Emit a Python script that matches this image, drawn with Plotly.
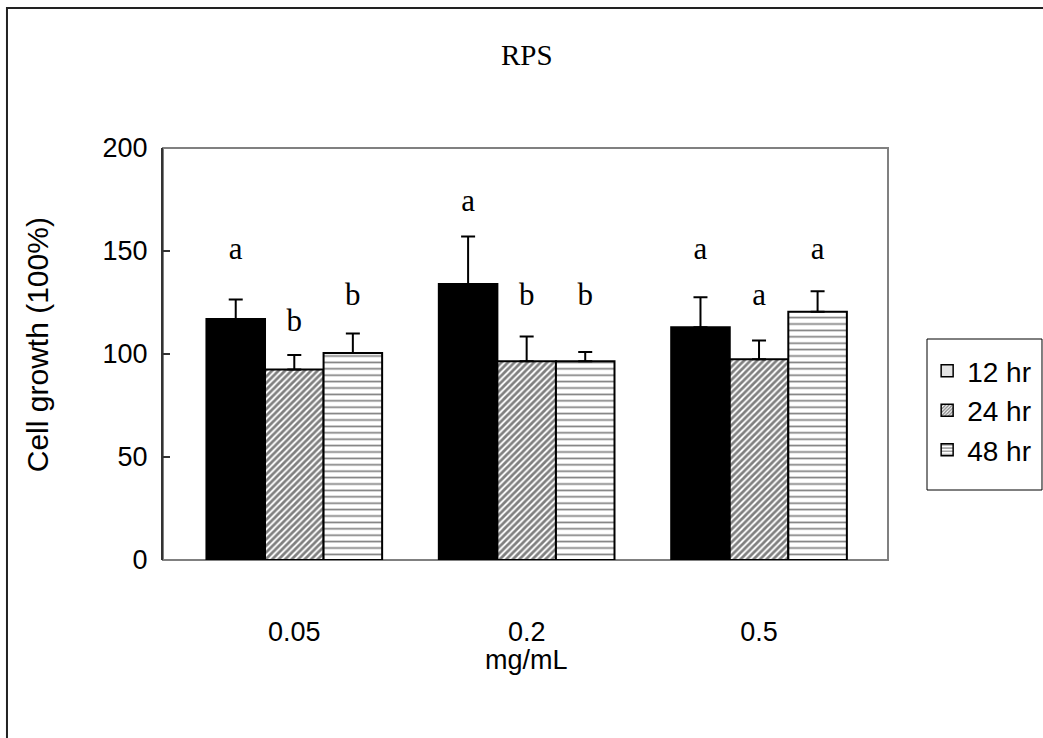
import plotly.graph_objects as go

categories = ["0.05", "0.2", "0.5"]
series_names = ["12 hr", "24 hr", "48 hr"]

growth_12 = [117, 134, 113]
err_12 = [9.5, 23, 14.5]
growth_24 = [92.5, 96.5, 97.5]
err_24 = [7, 12, 9]
growth_48 = [100.5, 96.5, 120.5]
err_48 = [9.5, 4.5, 10]

letters_12 = ["a", "a", "a"]
letters_24 = ["b", "b", "a"]
letters_48 = ["b", "b", "a"]
letter_y_12 = [150, 173, 150]
letter_y_24 = [115, 127.5, 127.5]
letter_y_48 = [127.5, 127.5, 150]

SANS = "Liberation Sans, Arial, sans-serif"
SERIF = "Liberation Serif, Times New Roman, serif"

fig = go.Figure()

styles = [
    dict(marker=dict(color="black", line=dict(color="black", width=2))),
    dict(marker=dict(color="white", line=dict(color="black", width=2),
                     pattern=dict(shape="/", fgcolor="black", bgcolor="white", size=4.6, solidity=0.6))),
    dict(marker=dict(color="white", line=dict(color="black", width=2),
                     pattern=dict(shape="-", fgcolor="black", bgcolor="white", size=6.4, solidity=0.26))),
]
legend_styles = [
    dict(marker=dict(color="#e4e4e4", line=dict(color="black", width=1.5))),
    dict(marker=dict(color="white", line=dict(color="black", width=1.5),
                     pattern=dict(shape="/", fgcolor="black", bgcolor="white", size=3, solidity=0.55))),
    dict(marker=dict(color="white", line=dict(color="black", width=1.5),
                     pattern=dict(shape="-", fgcolor="black", bgcolor="white", size=4, solidity=0.35))),
]

vals = [growth_12, growth_24, growth_48]
errs = [err_12, err_24, err_48]
letters = [letters_12, letters_24, letters_48]
letter_ys = [letter_y_12, letter_y_24, letter_y_48]

for i, name in enumerate(series_names):
    fig.add_trace(go.Bar(
        x=categories, y=vals[i], name=name, offsetgroup=name, showlegend=False,
        error_y=dict(type="data", symmetric=False, array=errs[i], arrayminus=[0] * 3,
                     color="black", thickness=2, width=7),
        **styles[i]))

for i, name in enumerate(series_names):
    fig.add_trace(go.Bar(
        x=[None], y=[None], name=name, offsetgroup=name, showlegend=True,
        legendgroup=name, **legend_styles[i]))

for i, name in enumerate(series_names):
    fig.add_trace(go.Scatter(
        x=categories, y=letter_ys[i], mode="text", text=letters[i], offsetgroup=name,
        showlegend=False, textposition="middle center",
        textfont=dict(family=SERIF, size=31, color="black"), hoverinfo="skip"))

fig.update_layout(
    width=1043, height=738,
    margin=dict(l=163, r=155, t=148, b=178, autoexpand=False),
    paper_bgcolor="white", plot_bgcolor="white",
    barmode="group", bargap=0.244, bargroupgap=0,
    scattermode="group", scattergap=0.244,
    font=dict(family=SANS, size=27, color="black"),
    showlegend=True,
    legend=dict(x=1.054, y=0.519, xanchor="left", yanchor="top",
                borderwidth=0, bgcolor="rgba(0,0,0,0)",
                font=dict(family=SANS, size=28), tracegroupgap=0,
                traceorder="grouped"),
    xaxis=dict(type="category", range=[-0.565, 2.555], showline=False, ticks="",
               showgrid=False, zeroline=False, ticklabelstandoff=53,
               tickfont=dict(family=SANS, size=27)),
    yaxis=dict(range=[0, 200], tickvals=[0, 50, 100, 150, 200], showline=True,
               linecolor="#333", linewidth=2, ticks="inside", ticklen=7,
               tickcolor="#333", tickwidth=1.5, showgrid=False, zeroline=False,
               ticklabelstandoff=8, tickfont=dict(family=SANS, size=27)),
    shapes=[
        dict(type="rect", xref="paper", yref="paper", x0=0, x1=1, y0=0, y1=1,
             line=dict(color="#808080", width=2), layer="below"),
        dict(type="rect", xref="paper", yref="paper", x0=-0.2152, x1=1.4, y0=-0.6, y1=1.3398,
             line=dict(color="#222", width=2), layer="below"),
        dict(type="rect", xref="paper", yref="paper", x0=1.0538, x1=1.2124, y0=0.1699, y1=0.5364,
             line=dict(color="black", width=1), fillcolor="white", layer="below"),
    ],
    annotations=[
        dict(text="RPS", xref="paper", yref="paper", x=0.502, y=1.226, showarrow=False,
             font=dict(family=SERIF, size=29, color="black"), xanchor="center", yanchor="middle"),
        dict(text="mg/mL", xref="paper", yref="paper", x=0.502, y=-0.243, showarrow=False,
             font=dict(family=SANS, size=27, color="black"), xanchor="center", yanchor="middle"),
        dict(text="Cell growth (100%)", xref="paper", yref="paper", x=-0.172, y=0.522,
             showarrow=False, textangle=-90,
             font=dict(family=SANS, size=30, color="black"), xanchor="center", yanchor="middle"),
    ],
)

fig.write_html("out.html")
